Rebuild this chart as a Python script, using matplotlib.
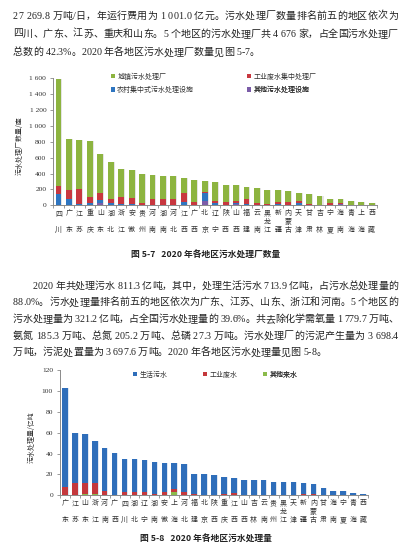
import matplotlib
matplotlib.use('Agg')
import matplotlib.pyplot as plt
import numpy as np
from matplotlib.patches import Patch

W, H = 413, 547
fig = plt.figure(figsize=(W / 100, H / 100), dpi=100)
renderer = fig.canvas.get_renderer()

CJK = ['Noto Sans CJK SC', 'DejaVu Sans']
MIX = ['Liberation Serif', 'Noto Sans CJK SC', 'DejaVu Sans']
SERIF = ['Liberation Serif', 'DejaVu Serif']
PT = 0.72  # points per pixel

# ---------------- data: figure 5-7 ----------------
regions1 = ['四川', '广东', '江苏', '重庆', '山东', '湖北', '浙江', '安徽', '贵州', '河南',
            '湖南', '河北', '江西', '广西', '北京', '辽宁', '陕西', '山西', '福建', '云南',
            '黑龙江', '新疆', '内蒙古', '天津', '甘肃', '吉林', '宁夏', '海南', '青海', '上海', '西藏']
other1 = [5, 3, 2, 3, 25, 3, 2, 2, 1, 1, 1, 1, 2, 1, 54, 3, 2, 20, 3, 1, 1, 2, 2, 3, 1, 1, 1, 20, 1, 0, 0]
rural1 = [137, 76, 18, 30, 42, 27, 13, 13, 7, 9, 9, 7, 44, 7, 105, 30, 8, 5, 17, 7, 4, 10, 8, 26, 4, 3, 7, 2, 2, 2, 1]
industry1 = [105, 114, 181, 72, 88, 45, 90, 77, 17, 70, 69, 71, 113, 34, 6, 25, 36, 29, 55, 17, 10, 34, 36, 25, 12, 6, 25, 3, 5, 3, 2]
urban1 = [1343, 642, 619, 707, 487, 466, 356, 353, 367, 307, 290, 286, 185, 273, 145, 232, 214, 198, 160, 189, 174,
          145, 134, 101, 125, 107, 46, 54, 50, 37, 26]
legend1 = ['城镇污水处理厂', '工业废水集中处理厂', '农村集中式污水处理设施', '其他污水处理设施']
yticks1 = [0, 200, 400, 600, 800, 1000, 1200, 1400, 1600]

# ---------------- data: figure 5-8 ----------------
regions2 = ['广东', '江苏', '山东', '浙江', '河南', '广西', '四川', '湖北', '辽宁', '湖南', '安徽', '上海',
            '河北', '福建', '北京', '陕西', '重庆', '江西', '山西', '吉林', '云南', '贵州', '黑龙江', '天津',
            '新疆', '内蒙古', '甘肃', '海南', '宁夏', '青海', '西藏']
other2 = [0.5, 0.3, 1.0, 1.0, 0.2, 0, 0.2, 0.2, 0.1, 0.1, 0.1, 3.5, 0.1, 0, 0, 0, 0, 0, 0, 0, 0, 0, 0, 0,
          0, 0, 0, 0, 0, 0, 0]
industry2 = [7.5, 11.5, 10.8, 11.0, 3.8, 0.5, 2.8, 3.3, 2.9, 0.9, 2.9, 2.2, 2.9, 1.0, 0.3, 0.5, 1.0, 2.0,
             0.4, 0.2, 0.4, 0.2, 0.3, 0.3, 1.0, 1.6, 0.2, 0, 0.2, 0, 0]
domestic2 = [94.8, 47.9, 47.2, 40.0, 41.6, 40.0, 32.0, 31.0, 30.5, 31.2, 28.0, 24.9, 26.7, 19.4, 20.1, 19.0,
             16.6, 15.0, 14.6, 14.8, 14.0, 12.6, 12.5, 12.5, 10.5, 9.3, 6.5, 4.1, 3.9, 2.2, 1.0]
legend2 = ['生活污水', '工业废水', '其他来水']
yticks2 = [0, 20, 40, 60, 80, 100, 120]

# ---------------- page text ----------------
para1 = ['27 269.8 万吨/日，年运行费用为 1 001.0 亿元。污水处理厂数量排名前五的地区依次为',
         '四川、广东、江苏、重庆和山东。5 个地区的污水处理厂共 4 676 家，占全国污水处理厂',
         '总数的 42.3%。2020 年各地区污水处理厂数量见图 5-7。']
para2 = ['2020 年共处理污水 811.3 亿吨，其中，处理生活污水 713.9 亿吨，占污水总处理量的',
         '88.0%。污水处理量排名前五的地区依次为广东、江苏、山东、浙江和河南。5 个地区的',
         '污水处理量为 321.2 亿吨，占全国污水处理量的 39.6%。共去除化学需氧量 1 779.7 万吨、',
         '氨氮 185.3 万吨、总氮 205.2 万吨、总磷 27.3 万吨。污水处理厂的污泥产生量为 3 698.4',
         '万吨，污泥处置量为 3 697.6 万吨。2020 年各地区污水处理量见图 5-8。']
caption1 = '图 5-7   2020 年各地区污水处理厂数量'
caption2 = '图 5-8   2020 年各地区污水处理量'

TIMES_W = {' ': 0.25, '.': 0.25, '%': 0.833, '-': 0.333, '/': 0.278}


def char_w(ch, em):
    if ord(ch) >= 0x2E80:
        return em
    if ch.isdigit():
        return 0.5 * em
    return TIMES_W.get(ch, 0.5) * em


def put_line(s, x0, x1, y_base, em, justify=True, color='#222222'):
    widths = [char_w(c, em) for c in s]
    gap = (x1 - x0 - sum(widths)) / (len(s) - 1) if justify else 0.0
    x = x0
    for c, w in zip(s, widths):
        if c != ' ':
            fig.text(x / W, 1 - y_base / H, c, fontsize=em * PT, family=MIX,
                     ha='left', va='baseline', color=color)
        x += w + gap


EM = 10.0
for i, (line, yc) in enumerate(zip(para1, [15.0, 33.3, 51.7])):
    put_line(line, 13, 398, yc + 3.6, EM, justify=(i < 2))
for i, (line, yc) in enumerate(zip(para2, [285.0, 301.7, 318.3, 335.0, 351.7])):
    x0 = 33 if i == 0 else 13
    put_line(line, x0, 398, yc + 3.6, EM, justify=(i < 4))

fig.text(206 / W, 1 - 255.7 / H, caption1, fontsize=6.3, family=CJK, fontweight='bold',
         ha='center', va='center', color='#222222')
fig.text(206 / W, 1 - 539.5 / H, caption2, fontsize=6.3, family=CJK, fontweight='bold',
         ha='center', va='center', color='#222222')


def vert(name):
    return '\n'.join(name) if len(name) > 2 else name[0] + '\n\n' + name[1]


def style_axes(ax, n, ymax, yticks, fmt):
    for s in ['top', 'right']:
        ax.spines[s].set_visible(False)
    for s in ['left', 'bottom']:
        ax.spines[s].set_color('#8a8a8a')
        ax.spines[s].set_linewidth(0.7)
    ax.set_xlim(-0.5, n - 0.5)
    ax.set_ylim(0, ymax)
    ax.set_yticks(yticks)
    ax.set_yticklabels([fmt(v) for v in yticks], family=SERIF, fontsize=5.4, color='#333333')
    ax.tick_params(axis='y', direction='out', length=2.5, width=0.6, color='#8a8a8a', pad=2.5)
    ax.set_xticks(np.arange(n))
    ax.tick_params(axis='x', length=0, pad=3)
    ax.set_xticks(np.arange(-0.5, n, 1.0), minor=True)
    ax.tick_params(axis='x', which='minor', direction='out', length=2.5, width=0.6, color='#8a8a8a')


def single_legend(ax, color, label, xpx, ypx):
    leg = ax.legend([Patch(facecolor=color, edgecolor='none')], [label], loc='center left',
                    bbox_to_anchor=(xpx / W, 1 - ypx / H), bbox_transform=fig.transFigure,
                    frameon=False, borderpad=0, borderaxespad=0, handlelength=0.55,
                    handleheight=0.55, handletextpad=0.35,
                    prop={'family': CJK, 'size': 5.0})
    for t in leg.get_texts():
        t.set_color('#333333')
    ax.add_artist(leg)


# ---------------- chart 1 ----------------
G1, R1, B1, P1 = '#8DB440', '#C8373F', '#2E75C0', '#7B5CA8'
ax1 = fig.add_axes([53.3 / W, 1 - 205.3 / H, (377 - 53.3) / W, 127 / H])
n1 = len(regions1)
x1 = np.arange(n1)
o1 = np.array(other1, float)
r1 = np.array(rural1, float)
i1 = np.array(industry1, float)
u1 = np.array(urban1, float)
bw = 0.56
ax1.bar(x1 + 0.1, o1 + r1 + i1 + u1, bw, color='#e4e4e4', zorder=1)
ax1.bar(x1, o1, bw, color=P1, zorder=2)
ax1.bar(x1, r1, bw, bottom=o1, color=B1, zorder=2)
ax1.bar(x1, i1, bw, bottom=o1 + r1, color=R1, zorder=2)
ax1.bar(x1, u1, bw, bottom=o1 + r1 + i1, color=G1, zorder=2)
style_axes(ax1, n1, 1600, yticks1, lambda v: f'{v:,}'.replace(',', ' '))
ax1.set_xticklabels([vert(r) for r in regions1], family=CJK, fontsize=5.0, linespacing=1.05,
                    color='#333333', va='top')
fig.text(20 / W, 1 - 146 / H, '污水处理厂数量/座', rotation=90, family=CJK, fontsize=5.0,
         ha='center', va='center', color='#333333')
cols1 = {legend1[0]: G1, legend1[1]: R1, legend1[2]: B1, legend1[3]: P1}
single_legend(ax1, G1, legend1[0], 111, 76.7)
single_legend(ax1, R1, legend1[1], 247, 76.7)
single_legend(ax1, B1, legend1[2], 111, 90.0)
single_legend(ax1, P1, legend1[3], 247, 90.0)

# ---------------- chart 2 ----------------
B2, R2, G2 = '#2F6EBA', '#C4383C', '#8BBB4B'
ax2 = fig.add_axes([60 / W, 1 - 495.3 / H, 308 / W, 125.3 / H])
n2 = len(regions2)
x2 = np.arange(n2)
o2 = np.array(other2)
i2 = np.array(industry2)
d2 = np.array(domestic2)
ax2.bar(x2 + 0.1, o2 + i2 + d2, bw, color='#dde6f2', zorder=1)
ax2.bar(x2, o2, bw, color=G2, zorder=2)
ax2.bar(x2, i2, bw, bottom=o2, color=R2, zorder=2)
ax2.bar(x2, d2, bw, bottom=o2 + i2, color=B2, zorder=2)
style_axes(ax2, n2, 120, yticks2, lambda v: f'{v}')
ax2.set_xticklabels([vert(r) for r in regions2], family=CJK, fontsize=5.0, linespacing=1.05,
                    color='#333333', va='top')
fig.text(31.7 / W, 1 - 436.7 / H, '污水处理量/亿吨', rotation=90, family=CJK, fontsize=5.0,
         ha='center', va='center', color='#333333')
single_legend(ax2, B2, legend2[0], 133, 374.5)
single_legend(ax2, R2, legend2[1], 203, 374.5)
single_legend(ax2, G2, legend2[2], 263, 374.5)

fig.savefig('out.png', dpi=100)
